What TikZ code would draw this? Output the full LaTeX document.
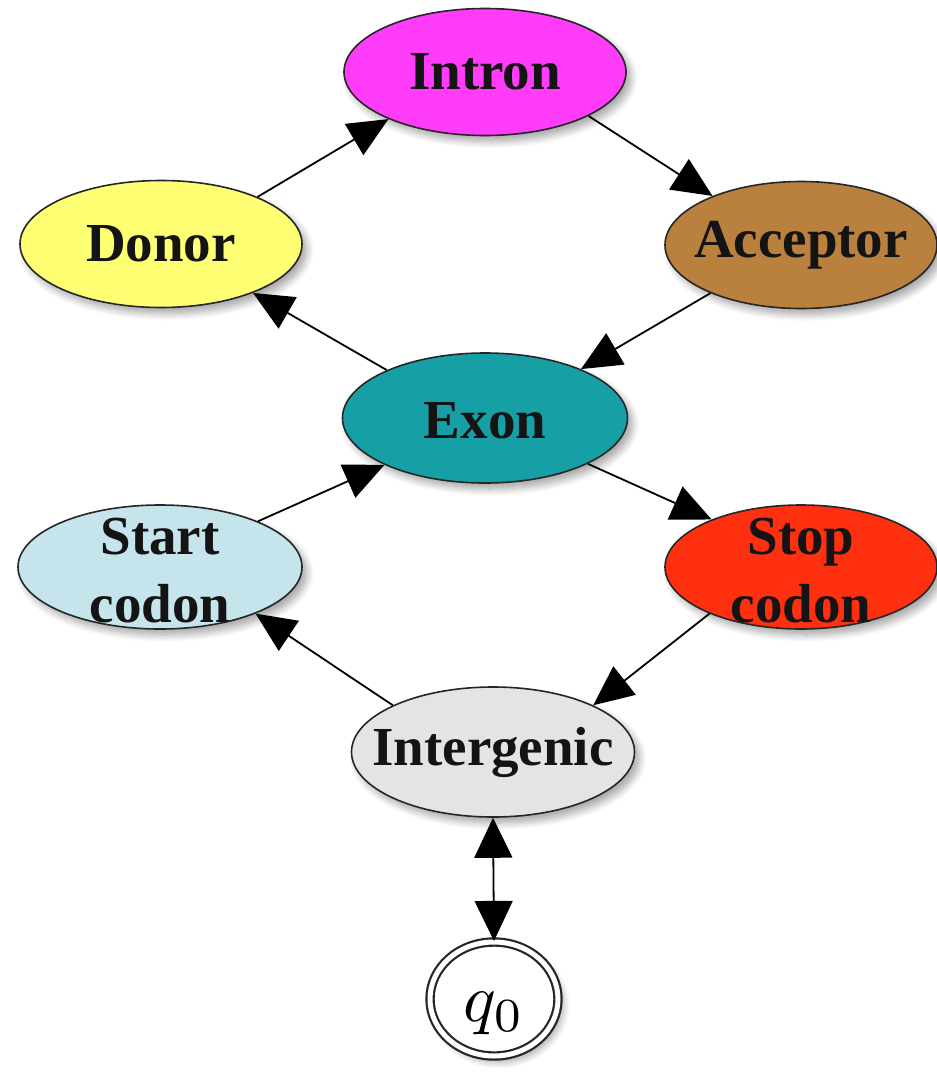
\documentclass[tikz,border=0pt]{standalone}
\usepackage{fontspec}
\setmainfont{Liberation Serif}
\usetikzlibrary{arrows.meta,shapes.geometric,shadows.blur}

\definecolor{intronc}{RGB}{255,60,250}
\definecolor{donorc}{RGB}{255,255,115}
\definecolor{acceptorc}{RGB}{186,128,62}
\definecolor{exonc}{RGB}{22,160,165}
\definecolor{startc}{RGB}{198,228,235}
\definecolor{stopc}{RGB}{255,48,16}
\definecolor{intergenicc}{RGB}{228,228,228}

\begin{document}
\begin{tikzpicture}[x=1pt,y=-1pt,
  softshadow/.style={blur shadow={shadow xshift=5pt, shadow yshift=-6pt,
      shadow blur radius=7pt, shadow blur steps=8, shadow opacity=35}},
  stateell/.style={ellipse, draw=black!85, line width=1.6pt, inner sep=0pt,
      minimum width=282pt, minimum height=127pt, softshadow},
  lbl/.style={font=\bfseries\fontsize{55}{68}\selectfont, align=center,
      text=black!92, inner sep=0pt},
  arr/.style={line width=1.8pt, -{Triangle[length=40pt,width=36pt]}},
  biarr/.style={line width=1.8pt, {Triangle[length=40pt,width=38pt]}-{Triangle[length=40pt,width=38pt]}},
  qstate/.style={ellipse, draw=black!85, double, double distance=5pt,
      line width=2.2pt, fill=white, minimum width=128pt, minimum height=114pt,
      inner sep=0pt, softshadow},
]
\useasboundingbox (0,0) rectangle (937,1074);

% gene-structure states
\node[stateell, fill=intronc] (intron) at (485,72) {};
\node[stateell, fill=donorc] (donor) at (161,244) {};
\node[stateell, fill=acceptorc, minimum width=272pt] (acceptor) at (801,245) {};
\node[stateell, fill=exonc, minimum width=285pt, minimum height=130pt] (exon) at (485,418) {};
\node[stateell, fill=startc, minimum width=284pt, minimum height=124pt] (start) at (160,567) {};
\node[stateell, fill=stopc, minimum width=272pt, minimum height=124pt] (stop) at (801,567) {};
\node[stateell, fill=intergenicc, minimum width=283pt, minimum height=130pt] (intergenic) at (493,752) {};
\node[qstate] (q0) at (494,999) {};

% state names
\node[lbl] (intron-t) at (intron) {Intron};
\node[lbl] (donor-t) at (donor) {Donor};
\node[lbl] (acceptor-t) at (acceptor) {Acceptor};
\node[lbl] (exon-t) at ([yshift=-3pt]exon.center) {Exon};
\node[lbl] (start-t) at ([yshift=-4pt]start.center) {Start\\codon};
\node[lbl] (stop-t) at ([yshift=-4pt]stop.center) {Stop\\codon};
\node[lbl] (intergenic-t) at (intergenic) {Intergenic};
\node[inner sep=0pt] (q0-t) at ([yshift=-14pt]q0.center) {\scalebox{6.8}{$q_0$}};

% transitions
\draw[arr] (donor.26) -- (intron.-154);
\draw[arr] (intron.-23) -- (acceptor.151);
\draw[arr] (acceptor.208) -- (exon.27);
\draw[arr] (exon.154) -- (donor.-28);
\draw[arr] (start.25) -- (exon.205);
\draw[arr] (exon.-24) -- (stop.152);
\draw[arr] (stop.207) -- (intergenic.25);
\draw[arr] (intergenic.155) -- (start.-26);
\draw[biarr] (intergenic.south) -- (q0.north);
\end{tikzpicture}
\end{document}
